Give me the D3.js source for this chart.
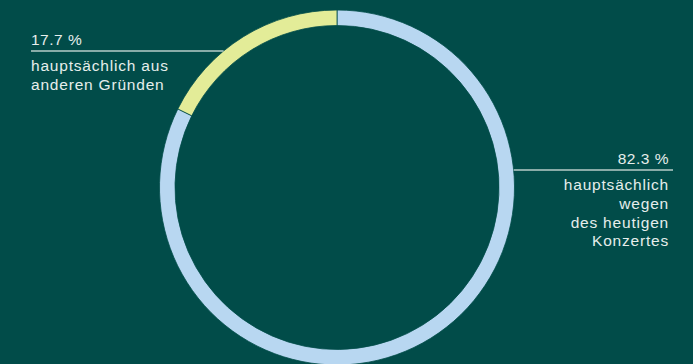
<!DOCTYPE html>
<html>
<head>
<meta charset="utf-8">
<script src="https://cdn.jsdelivr.net/npm/d3@7"></script>
<style>
  html, body { margin: 0; padding: 0; background: #014c49; }
  svg { display: block; }
</style>
</head>
<body>
<svg id="chart"></svg>
<script>
// Share of visitors by reason for coming
const categories = ['hauptsächlich wegen des heutigen Konzertes', 'hauptsächlich aus anderen Gründen'];
const values = [82.3, 17.7];
const valueLabels = ['82.3 %', '17.7 %'];
const labelLines = [
    ['hauptsächlich', 'wegen', 'des heutigen', 'Konzertes'],
    ['hauptsächlich aus', 'anderen Gründen']
];
const colors = ['#b8d7f1', '#e3ec98'];

const width = 693, height = 364;
const bg = '#014c49';
const cx = 337, cy = 187.5;
const outerR = 177.5, innerR = 162;

const svg = d3.select('#chart')
    .attr('width', width)
    .attr('height', height)
    .style('background', bg);

const pie = d3.pie().sort(null).value(d => d);
const arc = d3.arc().innerRadius(innerR).outerRadius(outerR);

const g = svg.append('g').attr('transform', `translate(${cx},${cy})`);

g.selectAll('path')
    .data(pie(values))
    .join('path')
    .attr('d', arc)
    .attr('fill', (d, i) => colors[i])
    .attr('stroke', bg)
    .attr('stroke-width', 0.8);

// label layout: leader line y, text anchor x, side
const labelPos = [
    { lineY: 170, x: 669, lineEnd: 673, anchor: 'end', side: 1 },
    { lineY: 51, x: 31, lineEnd: 31, anchor: 'start', side: -1 }
];

const font = '"Liberation Sans", Arial, sans-serif';
const textColor = '#e6eeec';

labelPos.forEach((p, i) => {
    // where the leader line meets the ring's outer edge
    const dy = p.lineY - cy;
    const ringX = cx + p.side * Math.sqrt(outerR * outerR - dy * dy);

    svg.append('line')
        .attr('x1', p.lineEnd)
        .attr('x2', ringX)
        .attr('y1', p.lineY)
        .attr('y2', p.lineY)
        .attr('stroke', '#b7ccc9')
        .attr('stroke-width', 1.5);

    svg.append('text')
        .attr('x', p.x)
        .attr('y', p.lineY - 6.5)
        .attr('text-anchor', p.anchor)
        .attr('fill', textColor)
        .style('font-family', font)
        .style('font-size', '15.5px')
        .style('letter-spacing', '0.5px')
        .text(valueLabels[i]);

    svg.append('text')
        .attr('text-anchor', p.anchor)
        .attr('fill', textColor)
        .style('font-family', font)
        .style('font-size', '15.5px')
        .style('letter-spacing', '0.8px')
        .selectAll('tspan')
        .data(labelLines[i])
        .join('tspan')
        .attr('x', p.x)
        .attr('y', (d, j) => p.lineY + 20 + j * 18.8)
        .text(d => d);
});
</script>
</body>
</html>
